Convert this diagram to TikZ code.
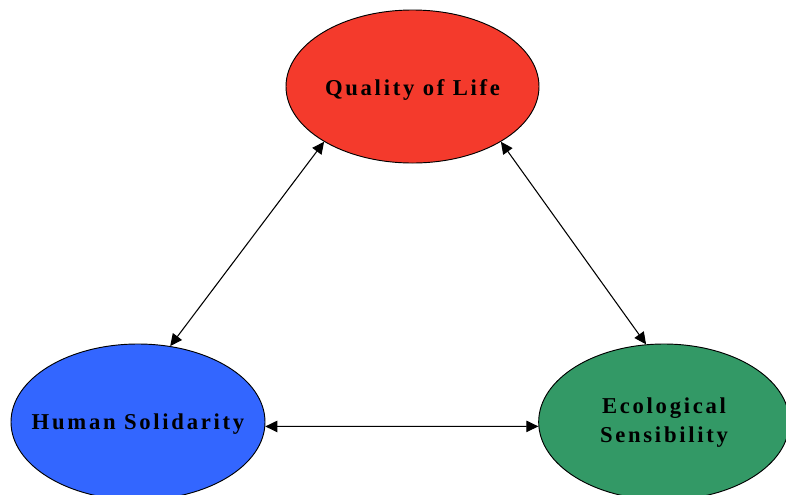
\documentclass[tikz,border=0pt]{standalone}
\usepackage{fontspec}
\setmainfont{Liberation Serif}[LetterSpace=12]
\usetikzlibrary{shapes.geometric,arrows.meta}
\definecolor{qred}{RGB}{244,58,44}
\definecolor{hblue}{RGB}{51,102,255}
\definecolor{egreen}{RGB}{51,153,102}
\tikzset{
  bubble/.style={ellipse, draw=black, line width=0.7pt, inner sep=0pt,
    font=\fontsize{17}{21.75}\selectfont\bfseries, text=black},
  link/.style={line width=0.8pt, {Triangle[length=9pt,width=8.5pt]}-{Triangle[length=9pt,width=8.5pt]}}
}
\begin{document}
\begin{tikzpicture}[x=0.75pt,y=-0.75pt]
\useasboundingbox (0,0) rectangle (786,494);
\clip (0,0) rectangle (786,494);
\node[bubble, fill=qred, minimum width=189.75pt, minimum height=114.75pt] (q) at (412.5,86.5) {\makebox[0pt]{\raisebox{-7pt}[0pt][0pt]{Quality of Life}}};
\node[bubble, fill=hblue, minimum width=190.5pt, minimum height=117pt] (h) at (138,422) {\makebox[0pt]{\raisebox{-5.5pt}[0pt][0pt]{Human Solidarity}}};
\node[bubble, fill=egreen, minimum width=188pt, minimum height=117pt] (e) at (664,422) {\makebox[0pt]{\raisebox{6.5pt}[0pt][0pt]{\begin{tabular}[t]{@{}c@{}}Ecological\\Sensibility\end{tabular}}}};
\draw[link] (q.212) -- (h.67);
\draw[link] (q.-32) -- (e.103);
\draw[link] (h.358) -- (e.182);
\end{tikzpicture}
\end{document}
